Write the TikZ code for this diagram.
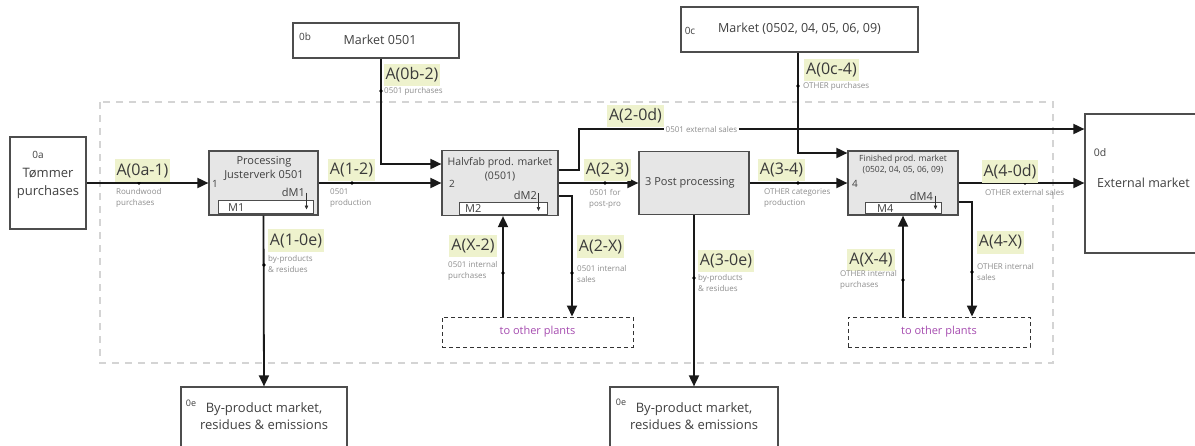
\documentclass[tikz,border=0pt]{standalone}
\usepackage{fontspec}
\setmainfont{Open Sans}
\usetikzlibrary{arrows.meta,calc}
\definecolor{boxc}{HTML}{4D4D4D}
\definecolor{procfill}{HTML}{E6E6E6}
\definecolor{lblbg}{RGB}{238,242,205}
\definecolor{lbltx}{HTML}{3A3A3A}
\definecolor{smalltx}{HTML}{8C8C8C}
\definecolor{purp}{RGB}{165,75,175}
\definecolor{outerc}{HTML}{D4D4D4}
\definecolor{txc}{HTML}{404040}
\newcommand\fsz[2]{\fontsize{#1}{#2}\selectfont}
\begin{document}
\begin{tikzpicture}[x=1pt,y=-1pt,
  box/.style={draw=boxc,line width=1.2pt,inner sep=0pt,fill=white},
  proc/.style={box,fill=procfill},
  inbox/.style={draw=boxc,line width=1pt,fill=white,inner sep=0pt},
  plants/.style={draw=black!80,dash pattern=on 4pt off 3pt,line width=1pt,inner sep=0pt,text=purp,font=\fsz{11}{13}},
  flow/.style={line width=1.8pt,draw=black!90,-{Triangle[length=11pt,width=10pt]}},
  lbl/.style={fill=lblbg,text=lbltx,font=\fsz{16}{16},inner xsep=2pt,inner ysep=4pt},
  sm/.style={text=smalltx,font=\fsz{8}{11},align=left,inner sep=0pt,anchor=west},
  tx/.style={text=txc,inner sep=0pt},
  tiny/.style={line width=0.7pt,draw=black!80,-{Triangle[length=4pt,width=3.5pt]}},
  outer/.style={draw=outerc,line width=1.2pt,dash pattern=on 7pt off 6pt}
]
\useasboundingbox (0,0) rectangle (1195,445);
\clip (0,0) rectangle (1195,445);

% system boundary
\draw[outer] (100,102) rectangle (1053,363);

% boxes
\node[box,minimum width=76pt,minimum height=92pt] (n0a) at (48,183) {};
\node[box,minimum width=166pt,minimum height=35pt] (m0b) at (376,40.5) {};
\node[box,minimum width=237pt,minimum height=45pt] (m0c) at (799.5,29.5) {};
\node[proc,minimum width=109pt,minimum height=64pt] (b1) at (263.5,183) {};
\node[proc,minimum width=116pt,minimum height=65pt] (b2) at (500,183) {};
\node[proc,minimum width=110pt,minimum height=63pt] (b3) at (694,183) {};
\node[proc,minimum width=110pt,minimum height=64pt] (b4) at (903,183) {};
\node[box,minimum width=115pt,minimum height=139pt] (m0d) at (1142.5,183.5) {};
\node[box,minimum width=166pt,minimum height=64pt] (e1) at (264,419) {};
\node[box,minimum width=168pt,minimum height=64pt] (e2) at (694,419) {};
\node[plants,minimum width=191pt,minimum height=30pt] (p1) at (537.5,332) {to other plants};
\node[plants,minimum width=182pt,minimum height=30pt] (p2) at (939,332) {to other plants};

% inner stock boxes
\node[inbox,minimum width=95pt,minimum height=13pt] (M1) at (265.5,206.5) {};
\node[inbox,minimum width=88pt,minimum height=12pt] (M2) at (503,208.5) {};
\node[inbox,minimum width=76pt,minimum height=11pt] (M4) at (903,207.5) {};

% box texts
\node[tx,font=\fsz{10}{12}] (t0a) at (38,155) {0a};
\node[tx,font=\fsz{13}{18},align=center] (t0a2) at (48,183) {Tømmer\\purchases};
\node[tx,font=\fsz{10}{12}] (t0b) at (305,37) {0b};
\node[tx,font=\fsz{12.5}{14}] (t0b2) at (380,40) {Market 0501};
\node[tx,font=\fsz{10}{12}] (t0c) at (690,31) {0c};
\node[tx,font=\fsz{12.5}{14}] (t0c2) at (799.5,29) {Market (0502, 04, 05, 06, 09)};
\node[tx,font=\fsz{10.5}{12}] (t0d) at (1100,153) {0d};
\node[tx,font=\fsz{12.5}{15},anchor=west] (t0d2) at (1097,183) {External market};
\node[tx,font=\fsz{9}{11}] (t0e1) at (191,403) {0e};
\node[tx,font=\fsz{13}{17},align=center] (t0e1b) at (264,416) {By-product market,\\residues \& emissions};
\node[tx,font=\fsz{9}{11}] (t0e2) at (621,402) {0e};
\node[tx,font=\fsz{13}{17},align=center] (t0e2b) at (694,416) {By-product market,\\residues \& emissions};

\node[tx,font=\fsz{11}{14},align=center] (tb1) at (264,168) {Processing\\Justerverk 0501};
\node[tx,font=\fsz{10}{12}] (tb1n) at (215,184) {1};
\node[tx,font=\fsz{11}{12},anchor=east] (tdm1) at (305,192) {dM1};
\node[tx,font=\fsz{11}{12},anchor=west] (tm1) at (228,207.5) {M1};
\draw[tiny] ([xshift=-7pt,yshift=7pt]M1.north east) -- ([xshift=-7pt,yshift=-10pt]M1.north east);

\node[tx,font=\fsz{10.5}{14},align=center] (tb2) at (500,169) {Halvfab prod. market\\(0501)};
\node[tx,font=\fsz{10}{12}] (tb2n) at (452,184) {2};
\node[tx,font=\fsz{11}{12},anchor=east] (tdm2) at (537,195) {dM2};
\node[tx,font=\fsz{11}{12},anchor=west] (tm2) at (465,209) {M2};
\draw[tiny] ([xshift=-9pt,yshift=9pt]M2.north east) -- ([xshift=-9pt,yshift=-9pt]M2.north east);

\node[tx,font=\fsz{11}{12},anchor=west] (tb3) at (645,183) {3 Post processing};

\node[tx,font=\fsz{8.5}{10.5},align=center] (tb4) at (903,164.5) {Finished prod. market\\(0502, 04, 05, 06, 09)};
\node[tx,font=\fsz{10}{12}] (tb4n) at (855,184) {4};
\node[tx,font=\fsz{11}{12},anchor=east] (tdm4) at (933,196) {dM4};
\node[tx,font=\fsz{11}{12},anchor=west] (tm4) at (877,209) {M4};
\draw[tiny] ([xshift=-6pt,yshift=6pt]M4.north east) -- ([xshift=-6pt,yshift=-8pt]M4.north east);

% flows
\draw[flow] (n0a.east) -- (b1.west);
\draw[flow] (b1.east) -- (b2.west);
\draw[flow] ([xshift=5pt]m0b.south) |- ([yshift=19pt]b2.west);
\draw[flow] (b2.east) -- (b3.west);
\draw[flow] ([yshift=13pt]b2.east) -- ++(20,0) |- ([yshift=54.5pt]m0d.west);
\draw[flow] ([yshift=-13pt]b2.east) -| ([xshift=34.5pt]p1.north);
\draw[flow] ([xshift=-34.5pt]p1.north) -- ([xshift=3pt]b2.south);
\draw[flow] (b1.south) -- (e1.north);
\draw[flow] (b3.east) -- (b4.west);
\draw[flow] (b3.south) -- (e2.north);
\draw[flow] ([xshift=-1.5pt]m0c.south) |- ([yshift=30pt]b4.west);
\draw[flow] (b4.east) -- (b4.east -| m0d.west);
\draw[flow] ([yshift=-19pt]b4.east) -| ([xshift=33pt]p2.north);
\draw[flow] ([xshift=-36pt]p2.north) -- (b4.south);

% dots
\foreach \p in {(139,183),(352,183),(381,91),(605,183),(798,183),(798,86),(1025,183),(264,265),(503,273),(572,273),(694,278),(972,272),(903,280)}
  \fill[black] \p circle[radius=1.8pt];

% flow labels
\node[lbl] (l0a1) at (142.5,170.5) {A(0a-1)};
\node[lbl] (l12) at (351.5,170) {A(1-2)};
\node[lbl] (l23) at (607.5,170) {A(2-3)};
\node[lbl] (l34) at (781.5,170) {A(3-4)};
\node[lbl] (l40d) at (1010,171.5) {A(4-0d)};
\node[lbl] (l0b2) at (412,75) {A(0b-2)};
\node[lbl] (l0c4) at (831.5,70) {A(0c-4)};
\node[lbl] (l20d) at (635.5,116) {A(2-0d)};
\node[lbl] (l10e) at (296,240.5) {A(1-0e)};
\node[lbl] (lx2) at (473,246) {A(X-2)};
\node[lbl] (l2x) at (600.5,246.5) {A(2-X)};
\node[lbl] (l30e) at (726,261) {A(3-0e)};
\node[lbl] (l4x) at (1000.5,242.5) {A(4-X)};
\node[lbl] (lx4) at (871,260) {A(X-4)};

% small descriptions
\node[sm] (s0a1) at (116,198) {Roundwood\\purchases};
\node[sm] (s12) at (330,198) {0501\\production};
\node[sm] (s0b2) at (384,91) {0501 purchases};
\node[sm,align=center] (s23) at (589,198.5) {0501 for\\post-pro};
\node[sm] (s34) at (764,198.5) {OTHER categories\\production};
\node[sm] (s40d) at (985,192) {OTHER external sales};
\node[sm] (s0c4) at (803,86) {OTHER purchases};
\node[sm,anchor=center,fill=white,inner xsep=2pt,inner ysep=1pt] (s20d) at (701.5,129) {0501 external sales};
\node[sm] (s10e) at (268,263.5) {by-products\\\& residues};
\node[sm] (sx2) at (448,270.5) {0501 internal\\purchases};
\node[sm] (s2x) at (577,274) {0501 internal\\sales};
\node[sm] (s30e) at (698,283) {by-products\\\& residues};
\node[sm] (s4x) at (977,271.5) {OTHER internal\\sales};
\node[sm] (sx4) at (840,280) {OTHER internal\\purchases};
\end{tikzpicture}
\end{document}
